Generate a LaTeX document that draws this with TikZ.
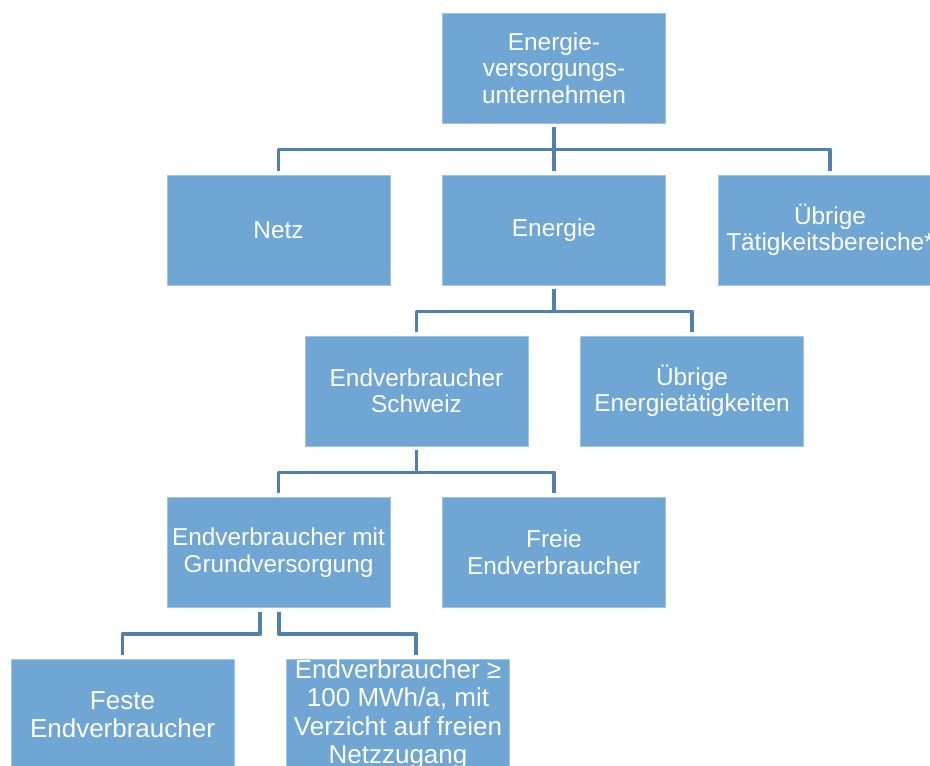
\documentclass[tikz,border=0pt]{standalone}
\usepackage{fontspec}
\setmainfont{Liberation Sans}
\usetikzlibrary{calc}
\definecolor{boxfill}{RGB}{111,166,212}
\definecolor{boxedge}{RGB}{158,196,230}
\definecolor{connc}{RGB}{82,128,172}
\tikzset{
  orgbox/.style={rectangle, fill=boxfill, draw=boxedge, line width=0.8pt,
    minimum width=223pt, minimum height=110pt, inner sep=0pt,
    text=white, align=center, font=\fontsize{24.4}{26.5}\selectfont},
  lowbox/.style={orgbox, font=\fontsize{26}{28.5}\selectfont},
  conn/.style={draw=connc, line width=3.6pt, line join=round}
}
\begin{document}
\begin{tikzpicture}[x=1pt, y=-1pt]
\useasboundingbox (0,0) rectangle (930,766);
\clip (0,0) rectangle (930,766);
\node[orgbox] (top) at (554,68) {Energie-\\versorgungs-\\unternehmen};
\node[orgbox] (netz) at (278.5,230) {Netz};
\node[orgbox] (energie) at (554,230) {Energie};
\node[orgbox] (ueb) at (830,230) {Übrige\\Tätigkeitsbereiche*};
\node[orgbox] (schweiz) at (416.5,391) {Endverbraucher\\Schweiz};
\node[orgbox] (uebe) at (692,391) {Übrige\\Energietätigkeiten};
\node[orgbox] (grund) at (278.5,552.5) {Endverbraucher mit\\Grundversorgung};
\node[orgbox] (freie) at (554,552.5) {Freie\\Endverbraucher};
\node[lowbox] (feste) at (122.5,714.5) {Feste\\Endverbraucher};
\node[lowbox] (ge) at (398,714.5) {Endverbraucher ≥\\100 MWh/a, mit\\Verzicht auf freien\\Netzzugang};
% connectors level 1
\draw[conn] ($(top.south)+(0,4)$) -- ++(0,22) coordinate (j1);
\draw[conn] ($(netz.north)+(0,-4)$) |- (j1) -| ($(ueb.north)+(0,-4)$);
\draw[conn] (j1) -- ($(energie.north)+(0,-4)$);
% level 2
\draw[conn] ($(energie.south)+(0,4)$) -- ++(0,22) coordinate (j2);
\draw[conn] ($(schweiz.north)+(0,-4)$) |- (j2) -| ($(uebe.north)+(0,-4)$);
% level 3
\draw[conn] ($(schweiz.south)+(0,4)$) -- ++(0,22) coordinate (j3);
\draw[conn] ($(grund.north)+(0,-4)$) |- (j3) -| ($(freie.north)+(0,-4)$);
% level 4
\coordinate (ga) at ($(grund.south)+(-18.5,4)$);
\coordinate (gb) at ($(grund.south)+(0.5,4)$);
\coordinate (geTop) at ($(ge.north)+(18,-4)$);
\draw[conn] (ga) -- ++(0,22) -| ($(feste.north)+(0,-4)$);
\draw[conn] (gb) -- ++(0,22) -| (geTop);
\end{tikzpicture}
\end{document}
